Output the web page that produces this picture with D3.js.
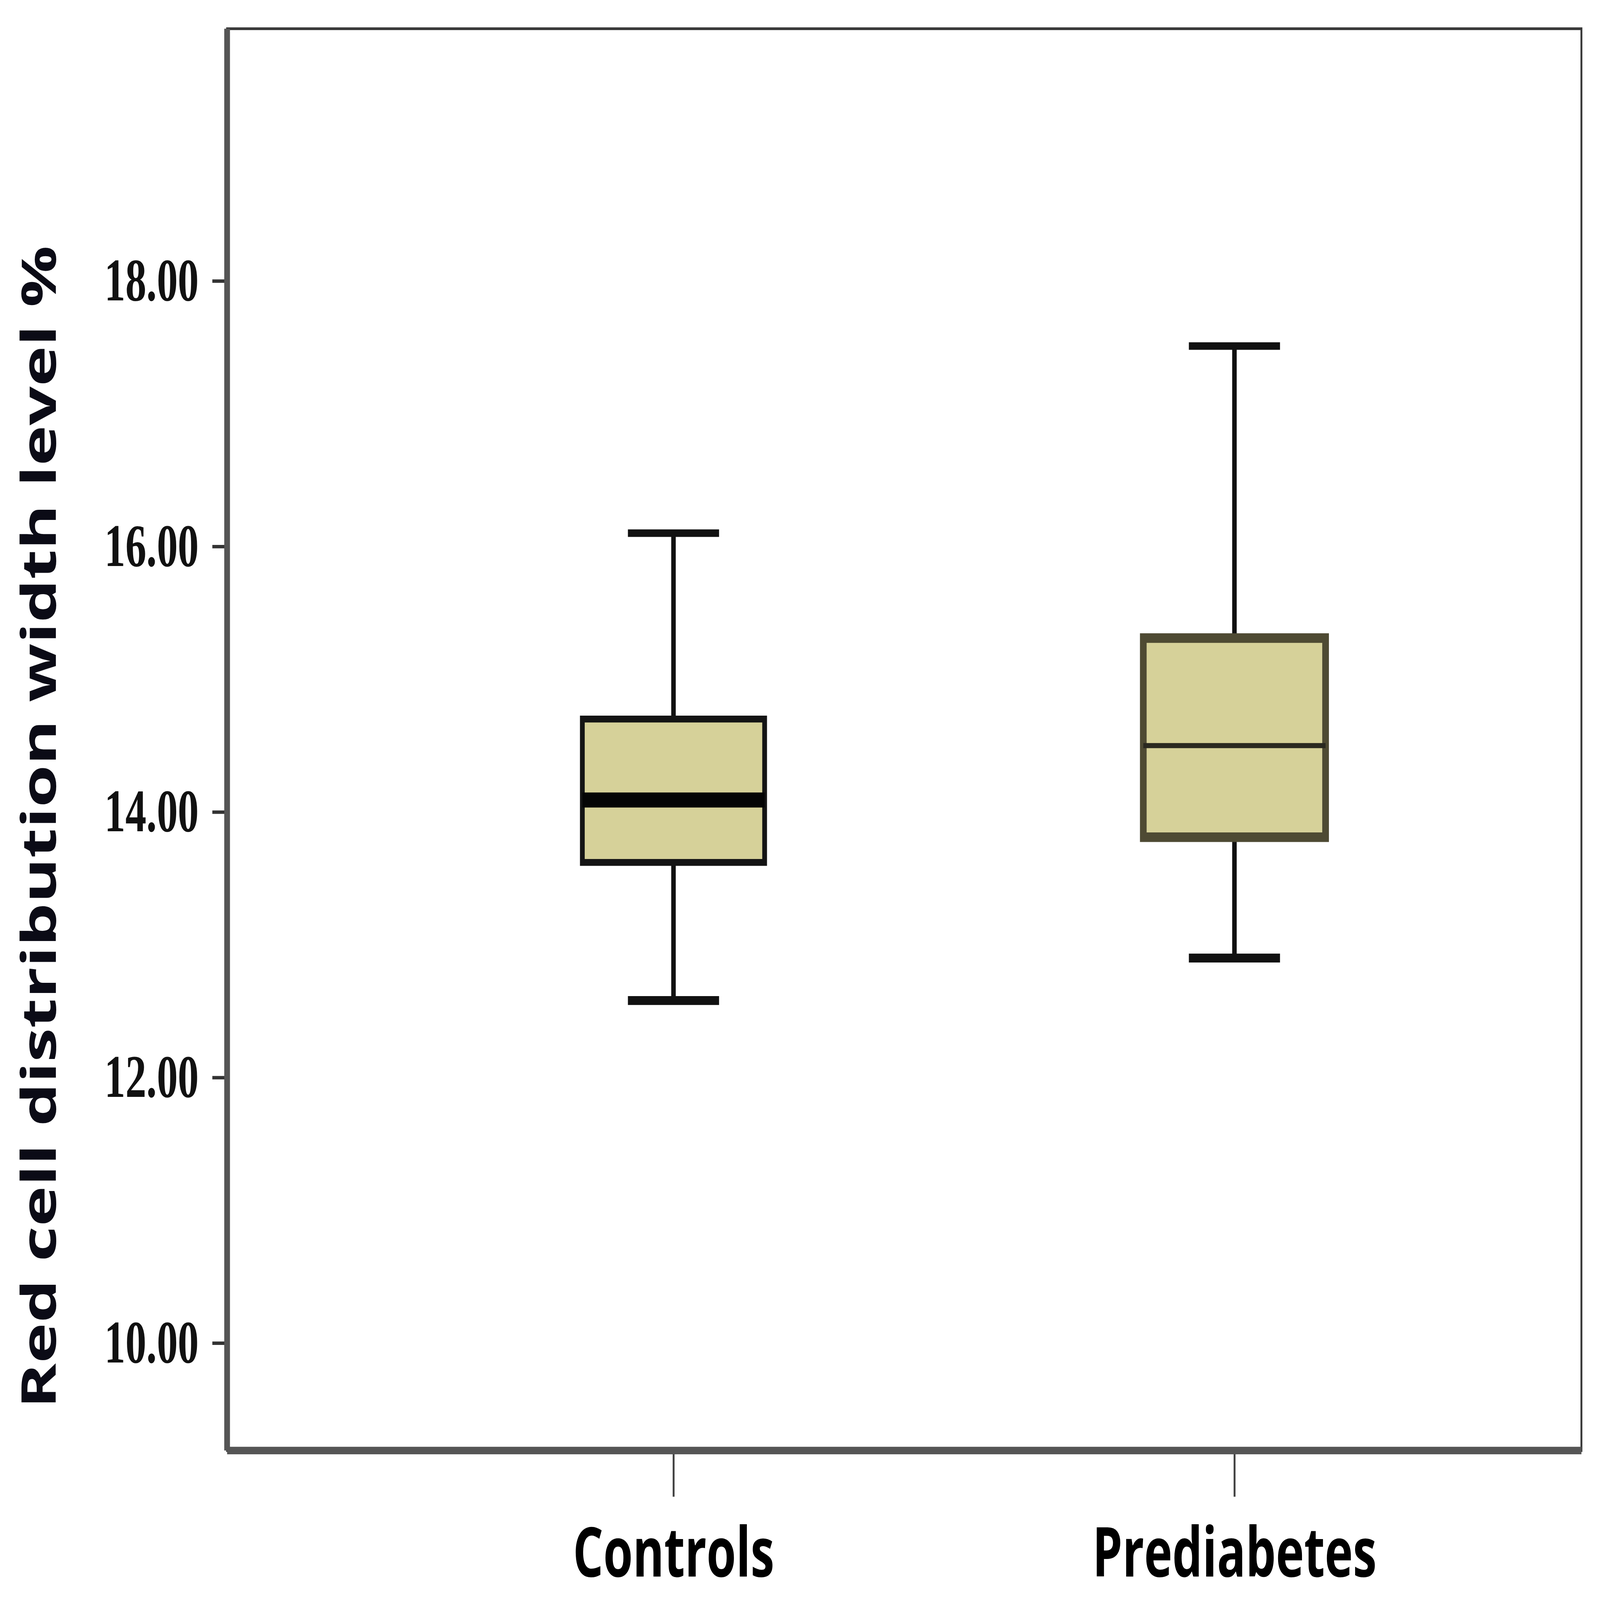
<!DOCTYPE html>
<html>
<head>
<meta charset="utf-8">
<script src="https://cdn.jsdelivr.net/npm/d3@7"></script>
<style>
  html, body { margin: 0; padding: 0; background: #fff; overflow: hidden; }
  #chart svg { display: block; width: 100vw; height: 100vh; }
</style>
</head>
<body>
<div id="chart"></div>
<script>
// data
const groups = ["Controls", "Prediabetes"];
const whiskerLow = [12.58, 12.90];
const q1 = [13.62, 13.81];
const median = [14.09, 14.50];
const q3 = [14.70, 15.31];
const whiskerHigh = [16.10, 17.51];
const yTicks = [10, 12, 14, 16, 18];

const width = 6714, height = 4678;
const margin = { top: 84, right: 78, bottom: 437, left: 953 };
const plotW = width - margin.left - margin.right;
const plotH = height - margin.top - margin.bottom;

const boxFill = "#d6d199";
// per group look (the first box has a heavy median, the second a heavy olive border)
const look = {
  Controls:    { stroke: "#141414", strokeW: 20, medColor: "#050505", medW: 44 },
  Prediabetes: { stroke: "#4e4a33", strokeW: 28, medColor: "#2a2920", medW: 15 }
};

// drawn in a 6714 x 4678 user space, scaled to whatever the window is
const svg = d3.select("#chart").append("svg")
  .attr("viewBox", `0 0 ${width} ${height}`)
  .attr("preserveAspectRatio", "none");

const g = svg.append("g")
  .attr("transform", `translate(${margin.left},${margin.top})`);

const y = d3.scaleLinear()
  .domain([9.19, 19.9])
  .range([plotH, 0]);

const x = d3.scalePoint()
  .domain(groups)
  .range([plotW * 0.3296, plotW * 0.7438]);

const boxW = plotW * 0.1346;
const capW = boxW * 0.5;

// y axis
const yAxis = g.append("g")
  .call(d3.axisLeft(y).tickValues(yTicks).tickFormat(d3.format(".2f")).tickSize(62).tickPadding(57));
yAxis.select(".domain").remove();
yAxis.selectAll(".tick line").attr("stroke", "#333").attr("stroke-width", 10);
yAxis.selectAll(".tick text")
  .attr("fill", "#111")
  .style("font-family", "'Liberation Serif', 'DejaVu Serif', serif")
  .style("font-weight", "bold")
  .style("font-size", "176px");

// x axis ticks below the frame
const xAxis = g.append("g")
  .attr("transform", `translate(0,${plotH})`)
  .call(d3.axisBottom(x).tickSize(135).tickPadding(0));
xAxis.select(".domain").remove();
xAxis.selectAll(".tick line").attr("stroke", "#444").attr("stroke-width", 8);
xAxis.selectAll(".tick text")
  .attr("y", 369)
  .attr("dy", 0)
  .attr("fill", "#000")
  .style("font-family", "'Open Sans', 'Liberation Sans', sans-serif")
  .style("font-weight", "bold")
  .style("font-size", "200px");

// frame
g.append("rect")
  .attr("x", 0).attr("y", 0)
  .attr("width", plotW).attr("height", plotH)
  .attr("fill", "none")
  .attr("stroke", "#3a3a3a")
  .attr("stroke-width", 8);
g.append("line")
  .attr("x1", 0).attr("x2", 0).attr("y1", 0).attr("y2", plotH)
  .attr("stroke", "#555").attr("stroke-width", 24);
g.append("line")
  .attr("x1", 0).attr("x2", plotW).attr("y1", plotH).attr("y2", plotH)
  .attr("stroke", "#555").attr("stroke-width", 22);

// boxes
const rows = groups.map((name, i) => ({
  name, lo: whiskerLow[i], q1: q1[i], med: median[i], q3: q3[i], hi: whiskerHigh[i]
}));

const box = g.selectAll("g.box")
  .data(rows)
  .join("g")
  .attr("class", "box");

// whisker stems
box.append("line")
  .attr("x1", d => x(d.name)).attr("x2", d => x(d.name))
  .attr("y1", d => y(d.hi)).attr("y2", d => y(d.q3))
  .attr("stroke", "#111").attr("stroke-width", 19);
box.append("line")
  .attr("x1", d => x(d.name)).attr("x2", d => x(d.name))
  .attr("y1", d => y(d.q1)).attr("y2", d => y(d.lo))
  .attr("stroke", "#111").attr("stroke-width", 19);

// caps
box.append("line")
  .attr("x1", d => x(d.name) - capW / 2).attr("x2", d => x(d.name) + capW / 2)
  .attr("y1", d => y(d.hi)).attr("y2", d => y(d.hi))
  .attr("stroke", "#111").attr("stroke-width", 22);
box.append("line")
  .attr("x1", d => x(d.name) - capW / 2).attr("x2", d => x(d.name) + capW / 2)
  .attr("y1", d => y(d.lo)).attr("y2", d => y(d.lo))
  .attr("stroke", "#111").attr("stroke-width", 26);

// box body
box.append("rect")
  .attr("x", d => x(d.name) - boxW / 2)
  .attr("y", d => y(d.q3))
  .attr("width", boxW)
  .attr("height", d => y(d.q1) - y(d.q3))
  .attr("fill", boxFill)
  .attr("stroke", d => look[d.name].stroke)
  .attr("stroke-width", d => look[d.name].strokeW);

// median
box.append("line")
  .attr("x1", d => x(d.name) - boxW / 2).attr("x2", d => x(d.name) + boxW / 2)
  .attr("y1", d => y(d.med)).attr("y2", d => y(d.med))
  .attr("stroke", d => look[d.name].medColor)
  .attr("stroke-width", d => look[d.name].medW);

// y title
svg.append("text")
  .attr("transform", `translate(234,2418) rotate(-90)`)
  .attr("text-anchor", "middle")
  .attr("fill", "#0b0b16")
  .attr("textLength", 3400)
  .attr("lengthAdjust", "spacingAndGlyphs")
  .style("font-family", "'Open Sans', 'Liberation Sans', sans-serif")
  .style("font-weight", "bold")
  .style("font-size", "200px")
  .text("Red cell distribution width level %");
</script>
</body>
</html>
